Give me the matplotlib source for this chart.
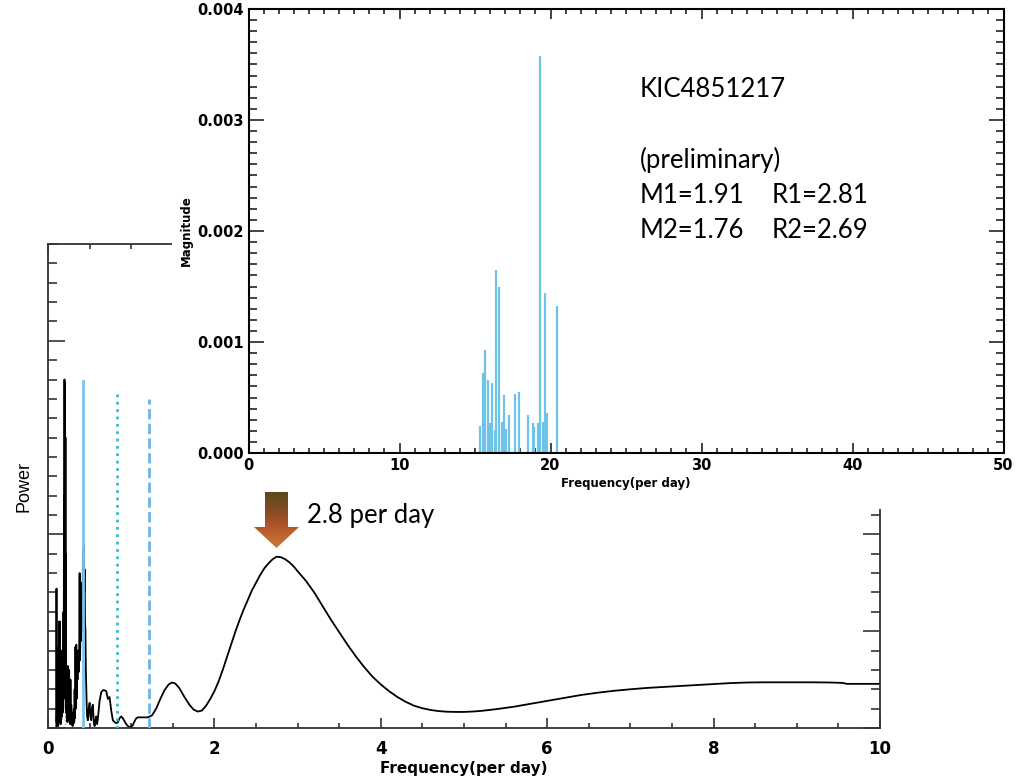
import matplotlib
matplotlib.use("Agg")
import matplotlib.pyplot as plt
from matplotlib.ticker import MultipleLocator, FormatStrFormatter, NullFormatter
from matplotlib.patches import Polygon
from matplotlib.colors import LinearSegmentedColormap
import numpy as np

# Main periodogram: spiky low-frequency part
low_freq = [0.100, 0.102, 0.105, 0.108, 0.111, 0.114, 0.117, 0.120, 0.123, 0.126,
            0.129, 0.132, 0.135, 0.138, 0.141, 0.144, 0.147, 0.150, 0.153, 0.156,
            0.159, 0.162, 0.165, 0.168, 0.171, 0.174, 0.177, 0.180, 0.183, 0.186,
            0.189, 0.192, 0.195, 0.198, 0.201, 0.204, 0.207, 0.210, 0.213, 0.216,
            0.219, 0.222, 0.226, 0.230, 0.234, 0.238, 0.242, 0.246, 0.250, 0.254,
            0.258, 0.262, 0.266, 0.270, 0.275, 0.280, 0.285, 0.290, 0.295, 0.300,
            0.305, 0.310, 0.315, 0.320, 0.325, 0.330, 0.335, 0.340, 0.345, 0.350,
            0.355, 0.360, 0.365, 0.370, 0.375, 0.380, 0.385, 0.390, 0.395, 0.400,
            0.405, 0.410, 0.415, 0.420, 0.425, 0.430, 0.435, 0.440, 0.445, 0.450,
            0.455, 0.460, 0.465, 0.470, 0.480, 0.490, 0.500, 0.510, 0.520, 0.530,
            0.540, 0.550, 0.560, 0.570, 0.580, 0.590, 0.600, 0.620, 0.640, 0.660,
            0.680, 0.700, 0.720, 0.740, 0.760, 0.780, 0.800, 0.820, 0.840, 0.860,
            0.880, 0.900, 0.920, 0.940, 0.960, 0.980, 1.000, 1.020, 1.040, 1.060,
            1.080, 1.100, 1.150]
low_power = [0.0, 7.2, 0.3, 1.2, 0.2, 3.0, 0.4, 1.5, 0.1, 4.2,
             0.6, 5.5, 0.3, 2.0, 0.5, 5.5, 1.0, 3.2, 0.2, 1.8,
             0.4, 2.6, 0.6, 4.0, 1.2, 2.2, 0.8, 3.5, 1.0, 6.0,
             1.5, 12.0, 2.0, 18.0, 3.0, 17.8, 2.5, 15.0, 1.5, 9.0,
             0.8, 3.0, 0.5, 2.5, 0.3, 3.2, 0.6, 2.0, 0.4, 3.0,
             1.0, 1.6, 0.2, 2.5, 0.5, 1.2, 0.2, 0.8, 0.1, 0.6,
             0.2, 1.0, 0.3, 2.0, 0.5, 4.2, 1.0, 4.3, 1.5, 3.8,
             2.5, 4.0, 3.0, 2.9, 4.0, 8.0, 3.5, 5.0, 4.5, 6.0,
             5.0, 7.5, 6.0, 9.2, 6.5, 9.5, 7.0, 8.2, 5.5, 5.0,
             3.0, 2.0, 1.2, 0.6, 0.4, 1.0, 1.3, 0.6, 0.4, 1.1,
             1.2, 0.3, 0.1, 0.4, 0.6, 0.2, 0.5, 1.4, 1.85, 1.95,
             1.95, 1.9, 1.5, 1.6, 0.9, 0.4, 0.3, 0.25, 0.3, 0.5,
             0.6, 0.5, 0.35, 0.2, 0.1, 0.05, 0.05, 0.15, 0.35, 0.5,
             0.55, 0.55, 0.55]

# Main periodogram: smooth part
high_freq = [1.20, 1.25, 1.30, 1.35, 1.40, 1.45, 1.49, 1.53, 1.58, 1.64,
             1.70, 1.75, 1.80, 1.85, 1.90, 1.95, 2.00, 2.05, 2.10, 2.15,
             2.20, 2.25, 2.30, 2.35, 2.40, 2.45, 2.50, 2.55, 2.60, 2.65,
             2.70, 2.75, 2.80, 2.85, 2.90, 2.95, 3.00, 3.10, 3.20, 3.30,
             3.40, 3.50, 3.60, 3.70, 3.80, 3.90, 4.00, 4.10, 4.20, 4.30,
             4.40, 4.50, 4.60, 4.70, 4.80, 4.90, 5.00, 5.10, 5.20, 5.30,
             5.40, 5.60, 5.80, 6.00, 6.20, 6.40, 6.60, 6.80, 7.00, 7.20,
             7.40, 7.60, 7.80, 8.00, 8.20, 8.40, 8.60, 8.80, 9.00, 9.20,
             9.40, 9.55, 9.60, 10.0]
high_power = [0.55, 0.65, 1.0, 1.5, 1.95, 2.25, 2.35, 2.3, 2.05, 1.6,
              1.2, 0.95, 0.85, 0.9, 1.15, 1.5, 1.9, 2.4, 3.0, 3.65,
              4.3, 4.95, 5.55, 6.1, 6.6, 7.1, 7.5, 7.9, 8.25, 8.5,
              8.72, 8.85, 8.82, 8.72, 8.56, 8.36, 8.1, 7.6, 7.0, 6.3,
              5.6, 4.95, 4.3, 3.7, 3.15, 2.65, 2.25, 1.9, 1.6, 1.35,
              1.15, 1.02, 0.93, 0.87, 0.84, 0.83, 0.83, 0.85, 0.88, 0.93,
              0.98, 1.1, 1.25, 1.4, 1.55, 1.7, 1.82, 1.92, 2.0, 2.07,
              2.12, 2.17, 2.22, 2.27, 2.32, 2.35, 2.36, 2.36, 2.36, 2.36,
              2.35, 2.33, 2.28, 2.28]

# Vertical marker lines in the main panel
marker_freq = [0.20, 0.417, 0.826, 1.21]
marker_top = [18.0, 17.9, 17.4, 17.0]
marker_color = ["#e07be0", "#7cc6e8", "#3fb9cc", "#6cb6e6"]
marker_style = [":", "-", ":", "--"]

# Inset spectrum (frequency per day, magnitude)
inset_freq = [15.33, 15.51, 15.68, 15.84, 15.99, 16.15, 16.32, 16.39, 16.59, 16.77,
              16.94, 17.05, 17.23, 17.65, 17.94, 18.49, 18.82, 18.93, 19.19, 19.30,
              19.52, 19.64, 19.75, 20.45]
inset_mag = [0.00024, 0.00072, 0.00093, 0.00066, 0.00027, 0.00063, 0.00021, 0.00165, 0.00150, 0.00028,
             0.00052, 0.00022, 0.00034, 0.00053, 0.00055, 0.00034, 0.00027, 0.00023, 0.00027, 0.00358,
             0.00028, 0.00144, 0.00036, 0.00132]

W, H = 1026, 778


def fx(px):
    return px / W


def fy(py):
    return 1 - py / H


fig = plt.figure(figsize=(10.26, 7.78), dpi=100)

# main panel
ax = fig.add_axes([fx(48), fy(728), fx(880) - fx(48), fy(244) - fy(728)])
ax.plot(low_freq + high_freq, low_power + high_power, color="black", lw=1.3)
for f, top, c, ls in zip(marker_freq, marker_top, marker_color, marker_style):
    lw = 1.0 if c == "#e07be0" else 2.0
    ax.plot([f, f], [0, top], color=c, ls=ls, lw=lw, zorder=1 if ls == ":" and f < 0.3 else 3)
ax.set_xlim(0, 10)
ax.set_ylim(0, 25)
ax.xaxis.set_major_locator(MultipleLocator(2))
ax.xaxis.set_minor_locator(MultipleLocator(0.5))
ax.yaxis.set_major_locator(MultipleLocator(10))
ax.yaxis.set_minor_locator(MultipleLocator(1))
ax.yaxis.set_major_formatter(NullFormatter())
ax.tick_params(axis="x", which="both", direction="in", top=True, width=1.2, colors="#333333",
               labelcolor="black", labelsize=12, pad=9)
ax.tick_params(axis="x", which="major", length=7)
ax.tick_params(axis="x", which="minor", length=3.6)
ax.tick_params(axis="y", which="both", direction="in", right=False, width=1.2, colors="#333333")
ax.tick_params(axis="y", which="major", length=12)
ax.tick_params(axis="y", which="minor", length=6.5)
for lab in ax.get_xticklabels():
    lab.set_fontweight("bold")
for s in ax.spines.values():
    s.set_linewidth(1.3)
    s.set_color("#333333")
ax.set_xlabel("Frequency(per day)", fontsize=11, fontweight="bold", labelpad=2)
ax.set_ylabel("Power", fontsize=13, family=["Liberation Sans", "DejaVu Sans"], labelpad=8)

ax2 = ax.twinx()
ax2.set_ylim(0, 25)
ax2.yaxis.set_major_locator(MultipleLocator(5))
ax2.yaxis.set_minor_locator(MultipleLocator(1))
ax2.yaxis.set_major_formatter(NullFormatter())
ax2.tick_params(axis="y", which="both", direction="in", width=1.2, colors="#333333")
ax2.tick_params(axis="y", which="major", length=12)
ax2.tick_params(axis="y", which="minor", length=6.5)
for s in ax2.spines.values():
    s.set_visible(False)

# white sheet under the inset
cover = fig.add_axes([fx(172), fy(509), fx(W) - fx(172), fy(0) - fy(509)])
cover.set_facecolor("white")
cover.set_xticks([])
cover.set_yticks([])
for s in cover.spines.values():
    s.set_visible(False)

# inset panel
ins = fig.add_axes([fx(248.5), fy(453), fx(1003.5) - fx(248.5), fy(9) - fy(453)])
ins.vlines(inset_freq, 0, inset_mag, color="#6ec3e6", lw=1.6)
ins.set_xlim(0, 50)
ins.set_ylim(0, 0.004)
ins.xaxis.set_major_locator(MultipleLocator(10))
ins.xaxis.set_minor_locator(MultipleLocator(1))
ins.yaxis.set_major_locator(MultipleLocator(0.001))
ins.yaxis.set_minor_locator(MultipleLocator(0.0001))
ins.yaxis.set_major_formatter(FormatStrFormatter("%.3f"))
ins.tick_params(which="both", direction="in", top=True, right=True, width=1.2,
                labelsize=10.5, colors="#222222", labelcolor="black")
ins.tick_params(axis="x", which="major", length=7)
ins.tick_params(axis="x", which="minor", length=3.5)
ins.tick_params(axis="y", which="major", length=11)
ins.tick_params(axis="y", which="minor", length=5.5)
for lab in ins.get_xticklabels() + ins.get_yticklabels():
    lab.set_fontweight("bold")
for s in ins.spines.values():
    s.set_linewidth(1.5)
ins.set_xlabel("Frequency(per day)", fontsize=8.5, fontweight="bold", labelpad=3)
ins.set_ylabel("Magnitude", fontsize=8.5, fontweight="bold", labelpad=3)

# annotation layer in pixel coordinates
ann = fig.add_axes([0, 0, 1, 1])
ann.set_xlim(0, W)
ann.set_ylim(H, 0)
ann.axis("off")

txt_font = ["Lato", "DejaVu Sans"]
ann.text(640, 89, "KIC4851217", fontsize=18.5, family=txt_font, va="center")
ann.text(640, 160, "(preliminary)", fontsize=18.5, family=txt_font, va="center")
ann.text(640, 195, "M1=1.91", fontsize=18.5, family=txt_font, va="center")
ann.text(772, 195, "R1=2.81", fontsize=18.5, family=txt_font, va="center")
ann.text(640, 230, "M2=1.76", fontsize=18.5, family=txt_font, va="center")
ann.text(772, 230, "R2=2.69", fontsize=18.5, family=txt_font, va="center")
ann.text(307, 515, "2.8 per day", fontsize=18.5, family=txt_font, va="center")

# gradient block arrow pointing at the peak
arrow_xy = [(265, 492), (288, 492), (288, 527), (299, 527), (276.5, 548),
            (254, 527), (265, 527)]
arrow = Polygon(arrow_xy, closed=True, facecolor="none", edgecolor="none")
ann.add_patch(arrow)
cmap = LinearSegmentedColormap.from_list("arr", ["#5b4a1d", "#7a4a22", "#a24f26", "#bd6330", "#c9783c"])
grad = np.linspace(0, 1, 100).reshape(-1, 1)
img = ann.imshow(grad, cmap=cmap, extent=[254, 299, 548, 492], aspect="auto", origin="upper")
img.set_clip_path(arrow)
ann.set_xlim(0, W)
ann.set_ylim(H, 0)

fig.savefig("out.png", dpi=100)
